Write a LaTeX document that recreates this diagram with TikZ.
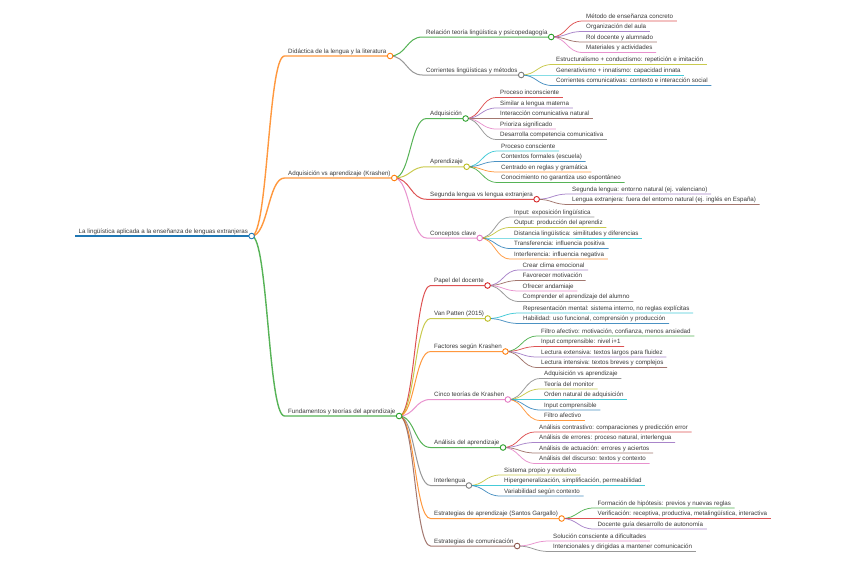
\documentclass[tikz,border=0pt]{standalone}
\usepackage{fontspec}
\setmainfont{Liberation Sans}
\usetikzlibrary{calc}
\definecolor{mmblue}{HTML}{1F77B4}
\definecolor{mmorange}{HTML}{FF7F0E}
\definecolor{mmgreen}{HTML}{2CA02C}
\definecolor{mmred}{HTML}{D62728}
\definecolor{mmpurple}{HTML}{9467BD}
\definecolor{mmbrown}{HTML}{8C564B}
\definecolor{mmpink}{HTML}{E377C2}
\definecolor{mmgray}{HTML}{7F7F7F}
\definecolor{mmolive}{HTML}{BCBD22}
\definecolor{mmcyan}{HTML}{17BECF}
\definecolor{mmtext}{HTML}{3A3A3A}

%% curved link from a parent's dot to a child's underline
\newcommand\twig[4][0.75pt]{%
  \draw[line width=#1, #4, draw opacity=0.8] let \p1=(#2.south east), \p2=(#3.south west) in
    (\p1) .. controls ({(\x1+\x2)/2},\y1) and ({(\x1+\x2)/2},\y2) .. (\p2)
    -- (#3.south east);}

\begin{document}
\begin{tikzpicture}[x=1pt, y=-1pt,
    topic/.style={anchor=south west, text=mmtext, font=\fontsize{6.2}{7}\selectfont,
      inner xsep=3.5pt, inner ysep=2.6pt, text height=4.6pt, text depth=0pt},
    hub/.style={circle, draw=#1, fill=white, line width=0.9pt,
      minimum size=5.6pt, inner sep=0pt}]
    \fill[white] (0,0) rectangle (848,565);
    \useasboundingbox (0,0) rectangle (848,565);
    %% --- Root ---
    \node[topic] (root) at (75,236)
      {La lingüística aplicada a la enseñanza de lenguas extranjeras};
    \draw[mmblue, line width=1.5pt] (root.south west) -- (root.south east);
    %% --- First level ---
    \node[topic] (did) at (284.5,56) {Didáctica de la lengua y la literatura};
    \node[topic] (adq) at (284.5,178) {Adquisición vs aprendizaje (Krashen)};
    \node[topic] (fun) at (284.5,416) {Fundamentos y teorías del aprendizaje};
    \twig[1.4pt]{root}{did}{mmorange}
    \twig[1.4pt]{root}{adq}{mmorange}
    \twig[1.4pt]{root}{fun}{mmgreen}
    %% --- Didáctica ---
    \node[topic] (rel) at (422.5,37) {Relación teoría lingüística y psicopedagogía};
    \node[topic] (cor) at (422.5,75) {Corrientes lingüísticas y métodos};
    \twig[1pt]{did}{rel}{mmgreen}
    \twig[1pt]{did}{cor}{mmgray}
    \foreach \j/\v/\c/\lbl in {1/21/mmred/{Método de enseñanza concreto},
        2/31.5/mmpurple/{Organización del aula}, 3/42/mmbrown/{Rol docente y alumnado},
        4/52.5/mmpink/{Materiales y actividades}} {
      \node[topic] (rel\j) at (582.5,\v) {\lbl};
      \twig{rel}{rel\j}{\c}
    }
    \foreach \j/\v/\c/\lbl in {1/64.5/mmolive/{Estructuralismo + conductismo: repetición e imitación},
        2/75/mmcyan/{Generativismo + innatismo: capacidad innata},
        3/85.5/mmblue/{Corrientes comunicativas: contexto e interacción social}} {
      \node[topic] (cor\j) at (552.5,\v) {\lbl};
      \twig{cor}{cor\j}{\c}
    }
    %% --- Adquisición vs aprendizaje ---
    \node[topic] (adqu) at (426.5,118.5) {Adquisición};
    \node[topic] (apr) at (426.5,166.75) {Aprendizaje};
    \node[topic] (seg) at (426.5,199.25) {Segunda lengua vs lengua extranjera};
    \node[topic] (con) at (426.5,238) {Conceptos clave};
    \twig[1pt]{adq}{adqu}{mmgreen}
    \twig[1pt]{adq}{apr}{mmolive}
    \twig[1pt]{adq}{seg}{mmred}
    \twig[1pt]{adq}{con}{mmpink}
    \foreach \j/\v/\c/\lbl in {1/97.5/mmred/{Proceso inconsciente},
        2/108/mmpurple/{Similar a lengua materna}, 3/118.5/mmbrown/{Interacción comunicativa natural},
        4/129/mmpink/{Prioriza significado}, 5/139.5/mmgray/{Desarrolla competencia comunicativa}} {
      \node[topic] (adqu\j) at (496.5,\v) {\lbl};
      \twig{adqu}{adqu\j}{\c}
    }
    \foreach \j/\v/\c/\lbl in {1/151/mmcyan/{Proceso consciente},
        2/161.5/mmblue/{Contextos formales (escuela)}, 3/172/mmorange/{Centrado en reglas y gramática},
        4/182.5/mmgreen/{Conocimiento no garantiza uso espontáneo}} {
      \node[topic] (apr\j) at (497.5,\v) {\lbl};
      \twig{apr}{apr\j}{\c}
    }
    \foreach \j/\v/\c/\lbl in {1/194/mmpurple/{Segunda lengua: entorno natural (ej. valenciano)},
        2/204.5/mmbrown/{Lengua extranjera: fuera del entorno natural (ej. inglés en España)}} {
      \node[topic] (seg\j) at (568.5,\v) {\lbl};
      \twig{seg}{seg\j}{\c}
    }
    \foreach \j/\v/\c/\lbl in {1/217/mmgray/{Input: exposición lingüística},
        2/227.5/mmolive/{Output: producción del aprendiz},
        3/238/mmcyan/{Distancia lingüística: similitudes y diferencias},
        4/248.5/mmblue/{Transferencia: influencia positiva},
        5/259/mmorange/{Interferencia: influencia negativa}} {
      \node[topic] (con\j) at (510.5,\v) {\lbl};
      \twig{con}{con\j}{\c}
    }
    %% --- Fundamentos ---
    \foreach \k/\v/\c/\lbl in {pap/285.5/mmred/{Papel del docente}, van/318.5/mmolive/{Van Patten (2015)},
        fac/351.5/mmorange/{Factores según Krashen}, cin/399.5/mmpink/{Cinco teorías de Krashen},
        ana/447.5/mmgreen/{Análisis del aprendizaje}, int/485.5/mmgray/{Interlengua},
        est/518.5/mmorange/{Estrategias de aprendizaje (Santos Gargallo)},
        com/546/mmbrown/{Estrategias de comunicación}} {
      \node[topic] (\k) at (430.5,\v) {\lbl};
      \twig[1pt]{fun}{\k}{\c}
    }
    \foreach \j/\v/\c/\lbl in {1/270/mmpurple/{Crear clima emocional},
        2/280.5/mmbrown/{Favorecer motivación}, 3/291/mmpink/{Ofrecer andamiaje},
        4/301.5/mmgray/{Comprender el aprendizaje del alumno}} {
      \node[topic] (pap\j) at (519,\v) {\lbl};
      \twig{pap}{pap\j}{\c}
    }
    \foreach \j/\v/\c/\lbl in {1/313/mmcyan/{Representación mental: sistema interno, no reglas explícitas},
        2/323.5/mmblue/{Habilidad: uso funcional, comprensión y producción}} {
      \node[topic] (van\j) at (519.5,\v) {\lbl};
      \twig{van}{van\j}{\c}
    }
    \foreach \j/\v/\c/\lbl in {1/336/mmgreen/{Filtro afectivo: motivación, confianza, menos ansiedad},
        2/346.5/mmred/{Input comprensible: nivel i+1},
        3/357/mmpurple/{Lectura extensiva: textos largos para fluidez},
        4/367.5/mmbrown/{Lectura intensiva: textos breves y complejos}} {
      \node[topic] (fac\j) at (537.5,\v) {\lbl};
      \twig{fac}{fac\j}{\c}
    }
    \foreach \j/\v/\c/\lbl in {1/378.5/mmgray/{Adquisición vs aprendizaje},
        2/389/mmolive/{Teoría del monitor}, 3/399.5/mmcyan/{Orden natural de adquisición},
        4/410/mmblue/{Input comprensible}, 5/420.5/mmorange/{Filtro afectivo}} {
      \node[topic] (cin\j) at (540.5,\v) {\lbl};
      \twig{cin}{cin\j}{\c}
    }
    \foreach \j/\v/\c/\lbl in {1/432/mmred/{Análisis contrastivo: comparaciones y predicción error},
        2/442.5/mmpurple/{Análisis de errores: proceso natural, interlengua},
        3/453/mmbrown/{Análisis de actuación: errores y aciertos},
        4/463.5/mmpink/{Análisis del discurso: textos y contexto}} {
      \node[topic] (ana\j) at (535.5,\v) {\lbl};
      \twig{ana}{ana\j}{\c}
    }
    \foreach \j/\v/\c/\lbl in {1/475/mmolive/{Sistema propio y evolutivo},
        2/485.5/mmcyan/{Hipergeneralización, simplificación, permeabilidad},
        3/496/mmblue/{Variabilidad según contexto}} {
      \node[topic] (int\j) at (500.5,\v) {\lbl};
      \twig{int}{int\j}{\c}
    }
    \foreach \j/\v/\c/\lbl in {1/508/mmgreen/{Formación de hipótesis: previos y nuevas reglas},
        2/518.5/mmred/{Verificación: receptiva, productiva, metalingüística, interactiva},
        3/529/mmpurple/{Docente guía desarrollo de autonomía}} {
      \node[topic] (est\j) at (594,\v) {\lbl};
      \twig{est}{est\j}{\c}
    }
    \foreach \j/\v/\c/\lbl in {1/541/mmpink/{Solución consciente a dificultades},
        2/551.5/mmgray/{Intencionales y dirigidas a mantener comunicación}} {
      \node[topic] (com\j) at (549.5,\v) {\lbl};
      \twig{com}{com\j}{\c}
    }
    %% --- Dots on top of the links ---
    \foreach \k/\c in {root/mmblue, did/mmorange, adq/mmorange, fun/mmgreen,
        rel/mmgreen, cor/mmgray, adqu/mmgreen, apr/mmolive, seg/mmred, con/mmpink,
        pap/mmred, van/mmolive, fac/mmorange, cin/mmpink, ana/mmgreen,
        int/mmgray, est/mmorange, com/mmbrown} {
      \node[hub=\c] at (\k.south east) {};
    }
\end{tikzpicture}
\end{document}
